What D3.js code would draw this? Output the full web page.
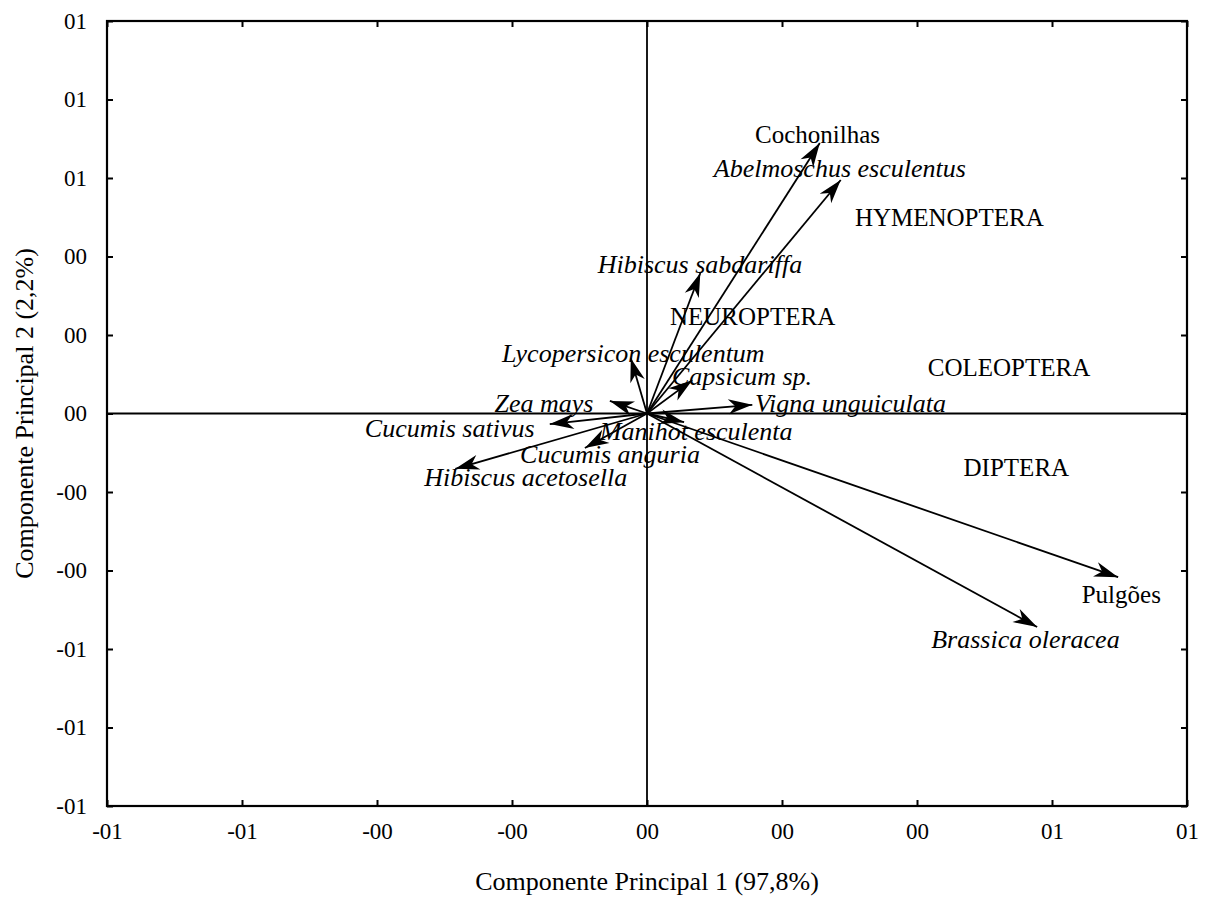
<!DOCTYPE html>
<html>
<head>
<meta charset="utf-8">
<script src="https://cdn.jsdelivr.net/npm/d3@7"></script>
<style>
body { margin: 0; background: #fff; }
svg text { font-family: "Liberation Serif", "Times New Roman", serif; fill: #000; }
</style>
</head>
<body>
<svg id="chart" width="1209" height="898"></svg>
<script>
// ---- data ----
const xTickValues = [-0.8, -0.6, -0.4, -0.2, 0, 0.2, 0.4, 0.6, 0.8];
const xTickLabels = ["-01", "-01", "-00", "-00", "00", "00", "00", "01", "01"];
const yTickValues = [1, 0.8, 0.6, 0.4, 0.2, 0, -0.2, -0.4, -0.6, -0.8, -1];
const yTickLabels = ["01", "01", "01", "00", "00", "00", "-00", "-00", "-01", "-01", "-01"];

const vectorNames = ["Cochonilhas", "Abelmoschus esculentus", "Hibiscus sabdariffa",
  "Lycopersicon esculentum", "Capsicum sp.", "Vigna unguiculata", "Zea mays",
  "Cucumis sativus", "Cucumis anguria", "Hibiscus acetosella", "Manihot esculenta",
  "Pulgões", "Brassica oleracea"];
const vectorPC1 = [0.256, 0.287, 0.079, -0.024, 0.067, 0.156, -0.055, -0.144, -0.092, -0.284, 0.055, 0.698, 0.578];
const vectorPC2 = [0.689, 0.595, 0.358, 0.141, 0.085, 0.022, 0.032, -0.027, -0.088, -0.141, -0.022, -0.417, -0.544];
const vectorItalic = [false, true, true, true, true, true, true, true, true, true, true, false, true];
// label anchor (start of text, baseline) in data units
const labelPC1 = [0.160, 0.099, -0.073, -0.215, 0.037, 0.160, -0.226, -0.418, -0.188, -0.330, -0.070, 0.644, 0.421];
const labelPC2 = [0.689, 0.602, 0.358, 0.131, 0.072, 0.004, 0.004, -0.059, -0.126, -0.185, -0.067, -0.483, -0.598];

const orderNames = ["HYMENOPTERA", "NEUROPTERA", "COLEOPTERA", "DIPTERA"];
const orderPC1 = [0.308, 0.034, 0.416, 0.469];
const orderPC2 = [0.478, 0.225, 0.095, -0.159];

const xTitle = "Componente Principal 1 (97,8%)";
const yTitle = "Componente Principal 2 (2,2%)";

// ---- layout ----
const svg = d3.select("#chart");
const mLeft = 107, mRight = 1187, mTop = 21, mBottom = 806;
const x = d3.scaleLinear().domain([-0.8, 0.8]).range([mLeft, mRight]);
const y = d3.scaleLinear().domain([-1, 1]).range([mBottom, mTop]);

// arrow marker
svg.append("defs").append("marker")
  .attr("id", "arrow")
  .attr("markerUnits", "userSpaceOnUse")
  .attr("viewBox", "-26 -8 28 16")
  .attr("refX", 0).attr("refY", 0)
  .attr("markerWidth", 28).attr("markerHeight", 16)
  .attr("orient", "auto")
  .append("path")
  .attr("d", "M0,0 L-24,-7.5 L-17,0 L-24,7.5 Z")
  .attr("fill", "#000");

// axes with inward ticks
const fmtX = (d, i) => xTickLabels[i];
const fmtY = (d, i) => yTickLabels[i];
const gB = svg.append("g").attr("transform", `translate(0,${mBottom})`)
  .call(d3.axisBottom(x).tickValues(xTickValues).tickFormat(fmtX).tickSizeInner(-6).tickSizeOuter(0).tickPadding(28));
const gT = svg.append("g").attr("transform", `translate(0,${mTop})`)
  .call(d3.axisTop(x).tickValues(xTickValues).tickFormat("").tickSizeInner(-6).tickSizeOuter(0));
const gL = svg.append("g").attr("transform", `translate(${mLeft},0)`)
  .call(d3.axisLeft(y).tickValues(yTickValues).tickFormat(fmtY).tickSizeInner(-6).tickSizeOuter(0).tickPadding(20));
const gR = svg.append("g").attr("transform", `translate(${mRight},0)`)
  .call(d3.axisRight(y).tickValues(yTickValues).tickFormat("").tickSizeInner(-6).tickSizeOuter(0));
[gB, gT, gL, gR].forEach(g => {
  g.select(".domain").remove();
  g.selectAll(".tick line").attr("stroke", "#000").attr("stroke-width", 2);
  g.selectAll("text").style("font-family", '"Liberation Serif", serif').style("font-size", "23px").attr("fill", "#000");
});
gB.selectAll("text").attr("dy", "0.71em").attr("y", 17);

// frame
svg.append("rect").attr("x", mLeft).attr("y", mTop)
  .attr("width", mRight - mLeft).attr("height", mBottom - mTop)
  .attr("fill", "none").attr("stroke", "#000").attr("stroke-width", 2.2);

// zero lines
svg.append("line").attr("x1", x(0)).attr("x2", x(0)).attr("y1", mTop).attr("y2", mBottom)
  .attr("stroke", "#000").attr("stroke-width", 1.8);
svg.append("line").attr("x1", mLeft).attr("x2", mRight).attr("y1", y(0)).attr("y2", y(0))
  .attr("stroke", "#000").attr("stroke-width", 1.8);

// vectors
const vecs = vectorNames.map((n, i) => ({ n, px: vectorPC1[i], py: vectorPC2[i], it: vectorItalic[i], lx: labelPC1[i], ly: labelPC2[i] }));
svg.append("g").selectAll("line").data(vecs).join("line")
  .attr("x1", x(0)).attr("y1", y(0))
  .attr("x2", d => x(d.px)).attr("y2", d => y(d.py))
  .attr("stroke", "#000").attr("stroke-width", 1.8)
  .attr("marker-end", "url(#arrow)");

svg.append("g").selectAll("text").data(vecs).join("text")
  .attr("x", d => x(d.lx)).attr("y", d => y(d.ly))
  .style("font-size", d => d.it ? "26px" : "25px")
  .style("font-style", d => d.it ? "italic" : "normal")
  .text(d => d.n);

// order labels
svg.append("g").selectAll("text").data(orderNames).join("text")
  .attr("x", (d, i) => x(orderPC1[i])).attr("y", (d, i) => y(orderPC2[i]))
  .style("font-size", "25px")
  .text(d => d);

// axis titles
svg.append("text").attr("x", (mLeft + mRight) / 2).attr("y", 890)
  .attr("text-anchor", "middle").style("font-size", "26px").text(xTitle);
svg.append("text").attr("transform", `translate(33,${(mTop + mBottom) / 2}) rotate(-90)`)
  .attr("text-anchor", "middle").style("font-size", "26px").text(yTitle);
</script>
</body>
</html>
